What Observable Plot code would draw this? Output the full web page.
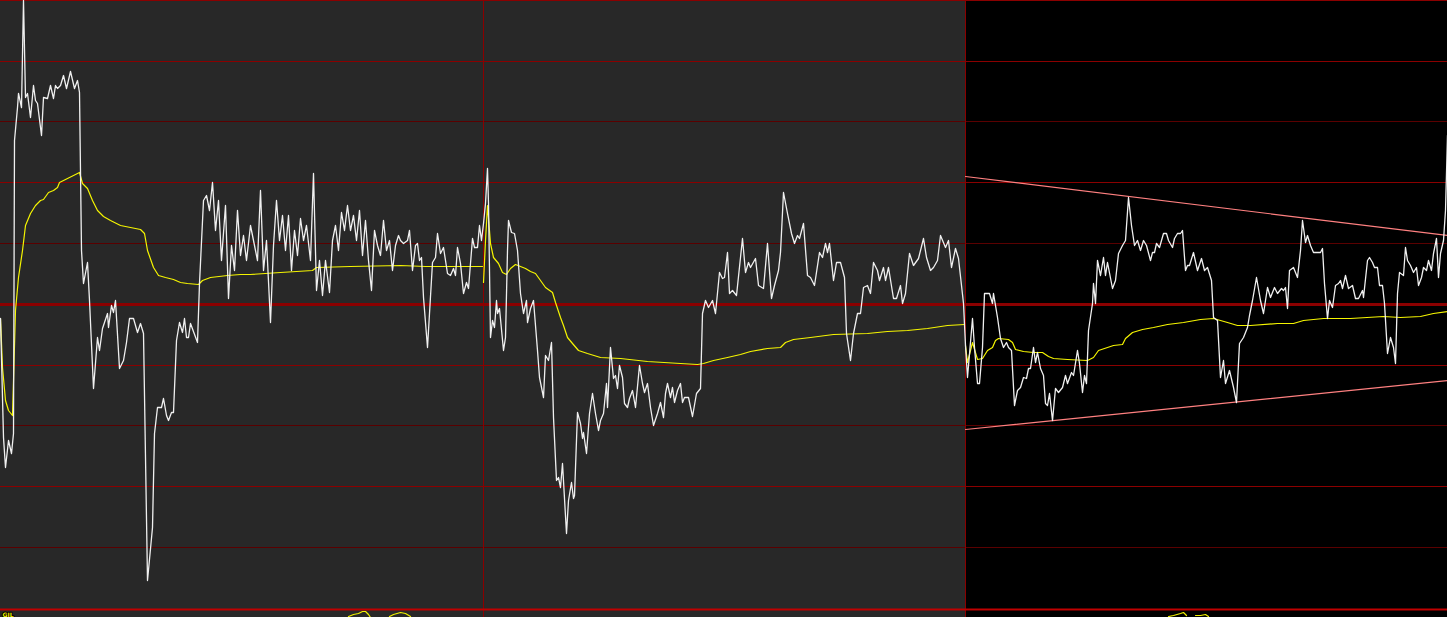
<!DOCTYPE html>
<html>
<head>
<meta charset="utf-8">
<script src="https://cdn.jsdelivr.net/npm/d3@7"></script>
<script src="https://cdn.jsdelivr.net/npm/@observablehq/plot@0.6"></script>
<style>
  html, body { margin: 0; padding: 0; background: #000; overflow: hidden; }
  #chart svg { display: block; }
</style>
</head>
<body>
<div id="chart"></div>
<script>
// Price series (t = bar position, v = price level in chart units)
const priceT = [0,3,5,8,11,13,14,17,18,21,23,25,27,30,33,35,37,41,43,47,50,53,55,57,60,63,66,70,74,77,79,81,83,87,89,93,97,99,102,107,108,111,113,115,119,123,126,129,133,137,140,143,147,152,154,157,161,163,166,168,171,173,176,179,182,184,186,188,190,197,199,
203,206,209,212,215,218,221,225,228,231,234,237,240,243,246,250,253,257,260,263,266,270,273,276,279,282,285,288,291,294,297,300,303,306,310,313,316,319,322,325,329,332,335,338,341,344,347,350,353,356,359,362,365,368,371,374,377,380,383,386,389,392,395,398,
400,403,407,409,412,415,417,419,421,423,427,432,435,437,440,443,447,450,453,455,457,460,463,466,468,472,474,477,479,481,483,485,487,488,490,492,494,496,497,499,503,505,507,508,511,514,517,520,523,526,527,530,533,537,539,543,545,548,551,553,556,558,560,562,566,568,571,573,574,577,580,582,583,586,589,592,595,598,600,603,606,607,610,613,615,617,619,622,624,627,629,632,635,639,642,644,647,650,653,657,660,663,665,667,670,672,674,677,680,682,684,688,692,696,700,
702,705,708,712,715,719,722,724,727,729,732,736,742,745,748,750,755,758,763,767,771,774,778,780,783,787,791,794,797,799,803,807,810,814,819,822,825,827,829,833,836,840,844,846,850,853,857,860,863,867,870,873,877,879,883,885,888,893,896,900,902,905,909,913,918,923,926,930,933,937,940,945,948,951,955,958,963,
965,967,972,974,977,979,982,984,989,992,993,997,1000,1003,1006,1008,1011,1014,1017,1020,1023,1026,1028,1030,1033,1035,1037,1040,1043,1045,1047,1049,1052,1055,1058,1062,1065,1067,1071,1073,1077,1079,1082,1084,1086,1088,1092,1093,1095,1097,1100,1103,1105,1107,1112,1115,1118,1122,1125,1128,1131,1134,1137,1140,1143,1146,1150,1152,1154,1156,1159,1163,1166,1168,1172,1174,1177,1180,1182,1185,1187,1189,1193,1197,1201,1204,1207,1211,1213,1217,1220,1223,1225,1229,1233,1236,1239,1243,1247,1249,1252,1256,1260,1263,1267,1270,1274,1277,1281,1283,1285,1287,1289,1293,1297,1300,1302,1305,1307,1310,1313,1320,1322,1324,1327,1329,1332,1335,1338,1340,1342,1345,1348,1352,1355,1358,1362,1363,1367,1369,1372,1374,1377,1379,1382,1384,1387,1390,1393,1395,1397,1399,1403,1405,1407,1410,1413,1416,1418,1421,1423,1426,1428,1431,1433,1436,1438,1440,1443,1445,1447];
const priceV = [290,171,141,168,155,175,468,501,515,501,608,511,515,491,523,508,505,473,511,510,523,510,523,520,523,533,520,537,520,528,516,358,325,346,308,220,271,258,280,295,281,303,296,308,240,248,266,290,290,276,285,275,28,81,175,201,201,210,193,188,196,196,268,286,276,290,271,271,285,266,325,
408,413,398,426,378,408,348,403,310,363,338,398,353,373,348,383,368,348,418,338,368,286,363,408,368,393,358,393,338,378,353,390,368,383,348,435,318,348,313,348,316,368,383,358,396,378,403,378,393,368,398,353,388,348,318,378,363,353,388,358,368,338,363,373,
368,365,368,378,338,363,365,348,351,311,261,346,351,375,355,361,335,333,340,333,361,345,315,326,320,370,361,361,383,368,385,405,440,405,271,288,281,308,295,300,258,271,358,388,376,375,358,315,295,308,286,300,308,258,231,211,253,248,266,191,128,131,121,145,75,108,126,110,113,196,185,170,176,155,195,215,195,178,188,195,225,201,261,230,233,220,243,231,205,201,210,218,201,243,225,216,225,201,183,195,206,191,215,225,211,221,206,218,225,206,211,211,192,215,220,
295,308,301,308,295,336,330,331,356,315,318,313,370,336,346,341,350,323,320,365,310,323,338,356,416,395,375,365,373,370,385,333,331,323,356,351,365,356,365,328,346,346,331,275,248,275,295,295,321,323,315,346,338,328,341,328,341,310,310,323,305,315,355,343,350,370,351,338,341,348,373,361,368,341,360,350,305,
263,231,290,261,225,225,261,315,315,305,315,291,270,261,266,261,258,203,218,221,231,230,240,240,261,246,256,240,233,205,203,215,188,220,216,221,233,225,236,233,258,245,216,233,225,278,305,325,305,348,333,351,333,346,320,328,355,363,368,411,383,363,368,358,368,363,348,356,356,365,361,375,375,368,361,370,375,375,378,338,343,343,356,338,350,338,341,328,291,288,231,248,225,238,221,206,265,271,281,293,308,331,308,295,321,311,321,315,320,318,321,300,338,341,331,358,388,366,373,363,356,356,360,325,290,308,301,323,325,328,320,333,320,323,310,310,318,311,348,351,346,341,341,323,323,305,255,271,261,245,315,336,333,361,348,343,336,341,323,331,341,338,348,338,355,370,331,355,368,398,473];

// Session average line (resets at each session start)
const avgT = [0,2,5,8,12,15,18,22,25,30,35,40,43,48,53,57,59,67,73,79,82,87,92,97,103,110,120,130,140,144,147,153,158,165,173,180,187,198,202,210,227,240,250,280,312,316,350,400,425,482,
483,485,487,490,493,498,502,506,510,515,520,525,530,535,540,545,552,555,560,563,567,572,578,587,600,620,647,680,697,703,713,727,740,750,767,780,785,793,810,833,867,887,907,927,947,964,
965,967,972,977,982,987,992,995,998,1008,1012,1015,1023,1033,1042,1048,1053,1067,1087,1093,1098,1107,1113,1122,1125,1132,1142,1153,1167,1183,1200,1213,1227,1237,1250,1277,1293,1303,1323,1350,1383,1400,1420,1433,1447];
const avgV = [290,241,208,198,193,298,331,358,383,395,403,408,409,416,418,421,426,430,433,436,425,420,408,398,392,388,383,381,379,375,358,341,333,331,329,326,325,324,328,331,333,334,334,336,338,341,342,343,342,342,
326,368,403,365,351,345,336,334,340,344,342,340,337,335,328,321,316,306,291,283,271,265,258,255,251,250,247,245,244,245,248,251,254,257,260,261,266,269,271,274,275,277,278,280,283,284,
263,246,266,249,250,258,261,268,270,269,266,259,257,256,256,252,250,249,248,251,258,261,263,264,270,276,279,281,284,286,289,290,286,283,283,285,285,288,290,290,292,291,292,295,297];

// Trend channel on the last session
const channelT = [965,1447];
const channelUpper = [432,373];
const channelLower = [179,228];

// Lower indicator pane (mostly cut off)
const lowerT = [348,353,358,362,365,368,370, 389,393,400,405,410, 1168,1173,1180,1183,1186, 1195,1200,1205,1208];
const lowerV = [-8,-6,-5,-3,-3,-6,-9, -8,-6,-4,-5,-8, -8,-7,-5,-4,-7, -7,-7,-6,-8];
const lowerSeg = [1,1,1,1,1,1,1, 2,2,2,2,2, 3,3,3,3,3, 4,4,4,4];
const lowerLabel = "GJL";

// Sessions and grid levels
const sessionStart = [0,965];
const sessionEnd = [965,1447];
const sessionBreaks = [483,965];
const gridMajor = [608,547,426,243,122];
const gridMinor = [487,365,183,61];
const gridMid = [304];
const gridBase = [0];

const sessionOf = t => sessionBreaks.filter(b => t >= b).length;
const price = priceT.map((t,i)=>({t, v: priceV[i]}));
const avg = avgT.map((t,i)=>({t, v: avgV[i], s: sessionOf(t)}));
const upper = channelT.map((t,i)=>({t, v: channelUpper[i]}));
const lower = channelT.map((t,i)=>({t, v: channelLower[i]}));
const lowPane = lowerT.map((t,i)=>({t, v: lowerV[i], s: lowerSeg[i]}));
const sessions = sessionStart.map((s,i)=>({s, e: sessionEnd[i], i}));

const chart = Plot.plot({
  width: 1447,
  height: 617,
  margin: 0,
  style: {background: "#000", overflow: "hidden"},
  x: {domain: [0,1447], range: [0,1447], axis: null},
  y: {domain: [0,608], range: [608,0], axis: null},
  marks: [
    Plot.rect(sessions, {x1: "s", x2: "e", fill: d => d.i === 0 ? "#282828" : "#000000"}),
    Plot.ruleY(gridMinor, {stroke: "#5a0000", strokeWidth: 1}),
    Plot.ruleY(gridMajor, {stroke: "#8b0000", strokeWidth: 1}),
    Plot.ruleY(gridMid, {stroke: "#8b0000", strokeWidth: 3}),
    Plot.ruleX(sessionBreaks, {stroke: "#8b0000", strokeWidth: 1}),
    Plot.ruleY(gridBase, {stroke: "#c00000", strokeWidth: 2, dy: 1}),
    Plot.line(lowPane, {x: "t", y: "v", z: "s", stroke: "#f0f000", strokeWidth: 1.2, clip: false}),
    Plot.line(upper, {x: "t", y: "v", stroke: "#ff8080", strokeWidth: 1.2}),
    Plot.line(lower, {x: "t", y: "v", stroke: "#ff8080", strokeWidth: 1.2}),
    Plot.line(avg, {x: "t", y: "v", z: "s", stroke: "#f5f500", strokeWidth: 1.2}),
    Plot.line(price, {x: "t", y: "v", stroke: "#f0f0f0", strokeWidth: 1.3}),
    Plot.text([lowerLabel], {text: d => d, frameAnchor: "bottom-left", dx: 2, dy: -1, fill: "#f0f000", stroke: "#000", strokeWidth: 2, paintOrder: "stroke", fontSize: 6, fontFamily: "DejaVu Sans", fontWeight: "bold", textAnchor: "start", lineAnchor: "bottom"})
  ]
});
document.getElementById("chart").appendChild(chart);
</script>
</body>
</html>
